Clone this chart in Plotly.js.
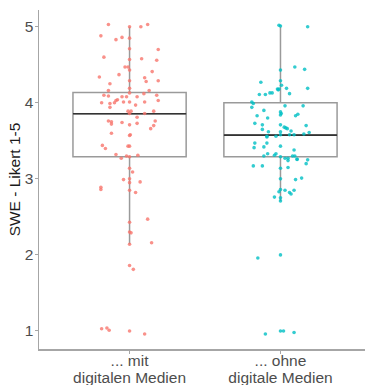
<!DOCTYPE html>
<html>
<head>
<meta charset="utf-8">
<script src="https://cdn.plot.ly/plotly-3.0.1.min.js"></script>
<style>html,body{margin:0;padding:0;background:#fff;}#chart{width:365px;height:385px;}</style>
</head>
<body>
<div id="chart"></div>
<script>
// Categories / tick labels (two lines each)
const categoryLine1 = ["... mit", "... ohne"];
const categoryLine2 = ["digitalen Medien", "digitale Medien"];
const groupPos = [1, 2];
const yTicks = [1, 2, 3, 4, 5];

// Box statistics
const q1 = [3.29, 3.29];
const median = [3.855, 3.575];
const q3 = [4.135, 4.0];
const lowerFence = [2.14, 2.71];
const upperFence = [5.0, 5.0];

// Group 1 ("mit digitalen Medien") jittered points: horizontal jitter offset and value
const g1Jitter = [-0.14,0,0.075,0.12,-0.19,-0.05,-0.09,0,0.19,0,-0.17,0.08,0.18,0,-0.03,-0.01,0,0.15,-0.07,-0.2,0.10,0.11,0.19,0,-0.13,0,-0.14,0.13,0,0.095,-0.17,-0.14,0.18,-0.05,-0.02,0.05,-0.08,-0.09,0.19,-0.185,-0.04,0,0.10,-0.13,-0.10,-0.13,0.04,0.16,-0.01,0.01,0.10,0,0.05,-0.14,-0.12,-0.12,-0.05,0.05,0.17,0,0.16,0.14,-0.12,0.005,0,-0.18,-0.16,-0.01,0,-0.09,-0.055,-0.02,0,0.055,0,0.02,-0.04,0,0,0.07,-0.19,-0.19,0,0.04,0,0.12,0,0.01,0.146,0,0,0.025,-0.185,-0.15,-0.135,0,0.10];
const g1Values = [5.03,5.0,5.0,5.03,4.88,4.86,4.83,4.85,4.70,4.71,4.60,4.58,4.56,4.57,4.47,4.47,4.43,4.41,4.37,4.34,4.33,4.28,4.29,4.29,4.25,4.19,4.16,4.16,4.13,4.12,4.10,4.09,4.10,4.08,4.08,4.08,4.04,4.03,4.03,4.0,4.01,4.01,4.01,3.99,4.0,3.94,3.97,3.89,3.89,3.89,3.86,3.86,3.81,3.76,3.75,3.72,3.74,3.73,3.76,3.71,3.70,3.66,3.60,3.58,3.57,3.44,3.40,3.43,3.43,3.32,3.27,3.30,3.29,3.31,3.14,3.09,2.99,3.0,2.95,2.96,2.89,2.86,2.85,2.82,2.43,2.47,2.30,2.29,2.16,2.14,1.86,1.81,1.03,1.04,1.01,1.0,0.96];

// Group 2 ("ohne digitale Medien")
const g2Jitter = [-0.01,0,0.18,0.095,0.16,0,-0.13,0,0.007,0.18,0.04,-0.02,-0.01,-0.015,-0.07,-0.055,-0.10,-0.14,0.06,-0.19,-0.18,-0.19,0.03,0.15,-0.11,0,0.005,0,0.115,0.10,-0.155,-0.085,-0.17,-0.12,0,0.025,0.035,0.045,0.17,-0.12,-0.08,0,0.07,0.06,0.09,0.155,0.19,-0.09,-0.09,-0.03,0,-0.09,-0.17,-0.175,-0.11,0,0.09,-0.085,-0.03,-0.04,-0.11,0,0.03,0.05,0.05,0.08,0.095,0.11,0.11,0.18,-0.18,-0.12,0.17,0,0.05,0,0.10,0.14,0,-0.01,0.03,0.06,0.07,0.09,-0.04,0,0,-0.15,0,-0.10,0,0.02,0.09];
const g2Values = [5.02,5.01,5.0,4.47,4.44,4.43,4.27,4.29,4.23,4.19,4.19,4.18,4.18,4.17,4.13,4.13,4.11,4.11,4.12,4.01,3.99,3.94,3.96,3.96,3.90,3.88,3.86,3.84,3.85,3.83,3.83,3.80,3.73,3.71,3.71,3.68,3.67,3.66,3.70,3.65,3.62,3.62,3.63,3.58,3.58,3.59,3.61,3.55,3.56,3.56,3.58,3.47,3.47,3.41,3.42,3.43,3.38,3.33,3.33,3.31,3.30,3.29,3.27,3.27,3.24,3.30,3.30,3.26,3.255,3.25,3.17,3.17,3.20,3.14,3.15,3.0,2.99,3.01,2.86,2.83,2.85,2.82,2.80,2.85,2.76,2.75,2.71,1.96,2.0,0.96,1.0,1.0,0.98];

const colors = ["#F8766D", "#00BFC4"];

const boxTrace = {
  type: "box", x: groupPos, q1: q1, median: median, q3: q3,
  lowerfence: lowerFence, upperfence: upperFence,
  width: 0.75, whiskerwidth: 0, boxpoints: false,
  fillcolor: "rgba(0,0,0,0)", line: {color: "#9a9a9a", width: 1.5},
  hoverinfo: "skip", showlegend: false
};
const medianTrace = {
  type: "box", x: groupPos, q1: median, median: median, q3: median,
  lowerfence: median, upperfence: median,
  width: 0.75, whiskerwidth: 0, boxpoints: false,
  fillcolor: "rgba(0,0,0,0)", line: {color: "#333333", width: 1.6},
  hoverinfo: "skip", showlegend: false
};
const pts1 = {
  type: "scatter", mode: "markers",
  x: g1Jitter.map(d => groupPos[0] + d), y: g1Values,
  marker: {color: colors[0], size: 3.6, opacity: 0.8}, showlegend: false, hoverinfo: "skip"
};
const pts2 = {
  type: "scatter", mode: "markers",
  x: g2Jitter.map(d => groupPos[1] + d), y: g2Values,
  marker: {color: colors[1], size: 3.6, opacity: 0.8}, showlegend: false, hoverinfo: "skip"
};
// invisible carrier trace for the second line of category labels
const line2Carrier = {
  type: "scatter", mode: "markers", x: groupPos, y: median, xaxis: "x2",
  marker: {opacity: 0}, showlegend: false, hoverinfo: "skip"
};

const xRange = [0.4, 2.56];
const layout = {
  width: 365, height: 385,
  margin: {l: 38.5, r: 0, t: 10, b: 36},
  paper_bgcolor: "#ffffff", plot_bgcolor: "#ffffff",
  font: {family: "Liberation Sans, Arial, sans-serif", size: 15, color: "#4d4d4d"},
  boxmode: "overlay",
  showlegend: false,
  xaxis: {
    range: xRange, tickvals: groupPos, ticktext: categoryLine1,
    showgrid: false, zeroline: false, showline: true, linecolor: "#a6a6a6", linewidth: 1.5,
    ticks: "outside", ticklen: 3, tickcolor: "#a6a6a6", ticklabelstandoff: -6,
    tickfont: {size: 15.5, color: "#4d4d4d"}
  },
  xaxis2: {
    overlaying: "x", anchor: "y", side: "bottom",
    range: xRange, tickvals: groupPos, ticktext: categoryLine2,
    showgrid: false, zeroline: false, showline: false,
    ticks: "", ticklabelstandoff: 17,
    tickfont: {size: 15.5, color: "#4d4d4d"}
  },
  yaxis: {
    range: [0.763, 5.22], tickvals: yTicks,
    showgrid: false, zeroline: false, showline: true, linecolor: "#a6a6a6", linewidth: 1.5,
    ticks: "outside", ticklen: 3, tickcolor: "#a6a6a6", ticklabelstandoff: -2,
    tickfont: {size: 15.5, color: "#4d4d4d"},
    title: {text: "SWE - Likert 1-5", font: {size: 15.5, color: "#1a1a1a"}, standoff: 0}
  }
};

Plotly.newPlot("chart", [boxTrace, medianTrace, pts1, pts2, line2Carrier], layout, {displayModeBar: false, staticPlot: true});
</script>
</body>
</html>
